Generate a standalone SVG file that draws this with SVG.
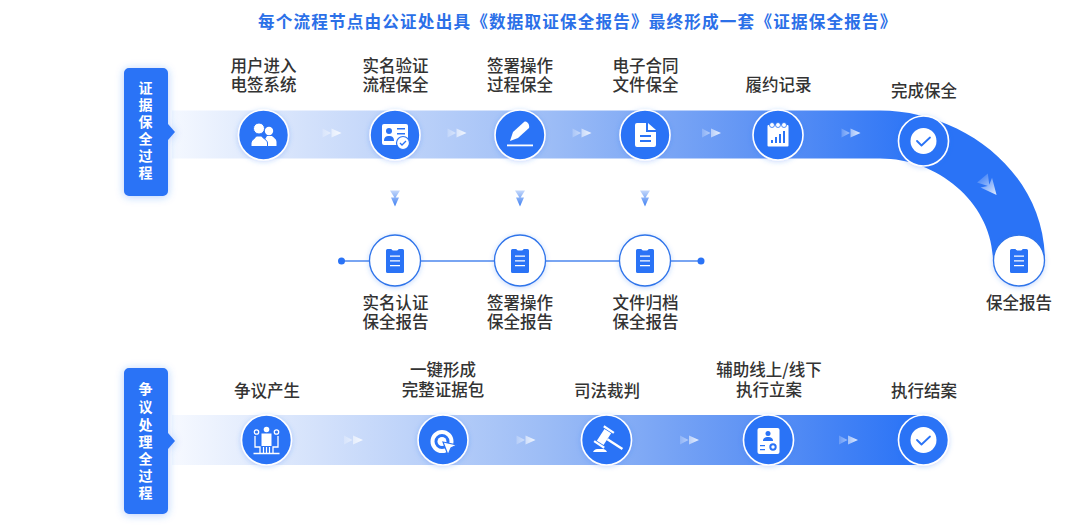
<svg xmlns="http://www.w3.org/2000/svg" width="1080" height="528" viewBox="0 0 1080 528">
<style>
text{font-family:"Noto Sans CJK SC","Noto Sans",sans-serif}
.title{font-size:16.6px;font-weight:700;fill:#2b70e8;letter-spacing:1.17px}
.lab{font-size:16.5px;font-weight:500;fill:#333;text-anchor:middle}
.tab{font-size:14px;font-weight:700;fill:#fff;text-anchor:middle}
.ring{fill:#2a73f6;stroke:#fff;stroke-width:1.6;filter:url(#glow)}
.wring{fill:#fff;stroke:#2f74ea;stroke-width:1.3;filter:url(#glow)}
.ic{fill:#fff}
.icb{fill:#2a73f6}
</style>
<defs>
<linearGradient id="band1" gradientUnits="userSpaceOnUse" x1="172" y1="0" x2="925" y2="0">
<stop offset="0" stop-color="#f4f8ff"/><stop offset=".18" stop-color="#d3e1fb"/><stop offset=".5" stop-color="#9dbdf6"/><stop offset=".8" stop-color="#5a90f4"/><stop offset="1" stop-color="#2a73f6"/>
</linearGradient>
<linearGradient id="band2" gradientUnits="userSpaceOnUse" x1="172" y1="0" x2="915" y2="0">
<stop offset="0" stop-color="#f6f9ff"/><stop offset=".2" stop-color="#d3e1fb"/><stop offset=".5" stop-color="#9dbdf6"/><stop offset=".8" stop-color="#5a90f4"/><stop offset="1" stop-color="#2a73f6"/>
</linearGradient>
<linearGradient id="fadeR"><stop offset="0" stop-color="#fff" stop-opacity=".2"/><stop offset="1" stop-color="#fff" stop-opacity=".85"/></linearGradient>
<linearGradient id="fadeD" x1="0" y1="0" x2="0" y2="1"><stop offset="0" stop-color="#c4d8fb"/><stop offset="1" stop-color="#3f80f2"/></linearGradient>
<filter id="glow" x="-30%" y="-30%" width="160%" height="160%"><feDropShadow dx="0" dy="1" stdDeviation="2.5" flood-color="#2a73f6" flood-opacity=".28"/></filter>
<filter id="tabglow" x="-40%" y="-20%" width="180%" height="140%"><feDropShadow dx="0" dy="1" stdDeviation="4" flood-color="#2a73f6" flood-opacity=".35"/></filter>
<g id="chevR"><path d="M-10,-4.500 L-1.500,0 L-10,4.500Z M-1,-4.500 L9,0 L-1,4.500Z" fill="url(#fadeR)"/></g>
<g id="chevD"><path d="M-5,-8 H5 L0,0Z M-4,-1 H4 L0,8 Z" fill="url(#fadeD)" transform="translate(0,1)"/></g>
<g id="clip"><path class="icb" fill-rule="evenodd" d="M-9,-10.500 a1.500,1.500 0 0 1 1.500,-1.500 H-3.500 a3.500,1.500 0 0 0 7,0 H7.500 a1.500,1.500 0 0 1 1.500,1.500 V10.500 a1.500,1.500 0 0 1 -1.500,1.500 H-7.500 a1.500,1.500 0 0 1 -1.500,-1.500Z M-5,-5.500 v1.300 h10 v-1.300Z M-5,-.7 v1.300 h10 v-1.300Z M-5,4 v1.300 h10 v-1.300Z"/></g>
<g id="check"><circle r="13" fill="#fff"/><path d="M-6.500,0 L-2,4.500 L6.500,-3.500" fill="none" stroke="#2a73f6" stroke-width="1.800" stroke-linecap="round" stroke-linejoin="round"/></g>
</defs>

<text class="title" x="258" y="28">每个流程节点由公证处出具《数据取证保全报告》最终形成一套《证据保全报告》</text>

<g id="connectors">
<path id="band-evidence" d="M172,110.500 H880 C960,110.500 1045,170 1045,262 L993,262 C993,205 940,158.500 880,158.500 H172Z" fill="url(#band1)"/>
<rect id="band-dispute" x="172" y="415" width="752" height="50" fill="url(#band2)"/>
<path d="M341,261 H701" stroke="#4c87ee" stroke-width="1.400" fill="none"/>
<circle cx="341.500" cy="261" r="3.500" fill="#2a73f6"/>
<circle cx="701" cy="261" r="3.500" fill="#2a73f6"/>
<use href="#chevR" x="332.500" y="133"/>
<use href="#chevR" x="457.500" y="133"/>
<use href="#chevR" x="582.500" y="133"/>
<use href="#chevR" x="712" y="133"/>
<use href="#chevR" x="851.500" y="133"/>
<use href="#chevR" x="354" y="440"/>
<use href="#chevR" x="526.500" y="440"/>
<use href="#chevR" x="690" y="440"/>
<use href="#chevR" x="849" y="440"/>
<use href="#chevD" x="395" y="197.500"/>
<use href="#chevD" x="520" y="197.500"/>
<use href="#chevD" x="645" y="197.500"/>
<path d="M-11,-7 L0,0 L-11,7Z M-5,-7.500 L11,0 L-5,7.500 L-1,0Z" fill="url(#fadeR)" transform="translate(989.500,186.500) rotate(50)"/>
</g>

<g id="tab-evidence">
<path d="M129,68 H163 a5,5 0 0 1 5,5 V124 L175,132 L168,140 V191 a5,5 0 0 1 -5,5 H129 a5,5 0 0 1 -5,-5 V73 a5,5 0 0 1 5,-5Z" fill="#2a73f6" filter="url(#tabglow)"/>
<text class="tab" x="145.500" y="92.500">证</text>
<text class="tab" x="145.500" y="109.500">据</text>
<text class="tab" x="145.500" y="127">保</text>
<text class="tab" x="145.500" y="144">全</text>
<text class="tab" x="145.500" y="161">过</text>
<text class="tab" x="145.500" y="178">程</text>
</g>
<g id="tab-dispute">
<path d="M129,368 H163 a5,5 0 0 1 5,5 V433 L175,441 L168,449 V509 a5,5 0 0 1 -5,5 H129 a5,5 0 0 1 -5,-5 V373 a5,5 0 0 1 5,-5Z" fill="#2a73f6" filter="url(#tabglow)"/>
<text class="tab" x="145.500" y="394">争</text>
<text class="tab" x="145.500" y="412">议</text>
<text class="tab" x="145.500" y="430">处</text>
<text class="tab" x="145.500" y="447">理</text>
<text class="tab" x="145.500" y="464">全</text>
<text class="tab" x="145.500" y="481">过</text>
<text class="tab" x="145.500" y="498">程</text>
</g>

<g id="node-enter">
<text class="lab"><tspan x="263.500" y="71.500">用户进入</tspan><tspan x="263.500" y="91">电签系统</tspan></text>
<circle class="ring" cx="263.500" cy="135" r="25"/>
<circle class="ic" cx="269" cy="131" r="4.200"/><path class="ic" d="M264,146 v-5 l3,-5 h5 c2,2 4.500,3 4.500,6 v4Z"/>
<circle class="ic" cx="259" cy="128.500" r="5.500" stroke="#2a73f6" stroke-width="1"/>
<path class="ic" stroke="#2a73f6" stroke-width="1" d="M251,146.500 v-3.500 c0,-3 4,-4.500 5.500,-7 h5 c1.500,2.500 6,4 6,7 v3.500Z"/>
</g>
<g id="node-verify">
<text class="lab"><tspan x="395.500" y="71.500">实名验证</tspan><tspan x="395.500" y="91">流程保全</tspan></text>
<circle class="ring" cx="395" cy="135" r="25"/>
<rect class="ic" x="382" y="124" width="26" height="21" rx="2"/>
<circle class="icb" cx="389" cy="131" r="3"/><path class="icb" d="M384,141 c0,-4 2,-5 5,-5 s5,1 5,5Z"/><path class="icb" d="M397,128 h8 v1.500 h-8Z M397,133 h8 v1.500 h-8Z"/>
<circle cx="403" cy="143" r="6.500" fill="#fff" stroke="#2a73f6" stroke-width="1.200"/><path d="M400,143 l2,2 l4,-4" fill="none" stroke="#2a73f6" stroke-width="1.300"/>
</g>
<g id="node-sign">
<text class="lab"><tspan x="520" y="71.500">签署操作</tspan><tspan x="520" y="91">过程保全</tspan></text>
<circle class="ring" cx="520" cy="135" r="25"/>
<path class="ic" d="M510,141 L513,132 L524,122 C527,120 530,125 529,128 L518,138Z"/>
<rect class="ic" x="507" y="144.500" width="26" height="1.800"/>
</g>
<g id="node-contract">
<text class="lab"><tspan x="645.500" y="71.500">电子合同</tspan><tspan x="645.500" y="91">文件保全</tspan></text>
<circle class="ring" cx="645" cy="135" r="25"/>
<path class="ic" fill-rule="evenodd" d="M637,123 H646 V132 H656 V145 a2,2 0 0 1 -2,2 H637 a2,2 0 0 1 -2,-2 V125 a2,2 0 0 1 2,-2Z M640,135 v2 h11 v-2Z M640,140 v2 h11 v-2Z"/>
<path class="ic" d="M648,123 L656,130 H648Z"/>
</g>
<g id="node-record">
<text class="lab" x="778.500" y="91">履约记录</text>
<circle class="ring" cx="778" cy="135" r="25"/>
<rect class="ic" x="767.500" y="125" width="21" height="21.500" rx="1"/>
<g class="ic" stroke="#2a73f6" stroke-width=".8"><circle cx="772" cy="125" r="2.500"/><circle cx="778" cy="125" r="2.500"/><circle cx="784" cy="125" r="2.500"/></g>
<path class="icb" d="M771,140 h2 v3 h-2Z M775,137 h2 v6 h-2Z M779,134 h2 v9 h-2Z M783,131 h2 v12 h-2Z"/>
</g>
<g id="node-finish">
<text class="lab" x="924" y="96.500">完成保全</text>
<circle class="ring" cx="923.500" cy="141" r="25"/>
<use href="#check" x="923.500" y="141"/>
</g>
<g id="node-report">
<circle class="wring" cx="1019" cy="260.500" r="25.500"/>
<use href="#clip" x="1019" y="261"/>
<text class="lab" x="1019" y="309">保全报告</text>
</g>

<g id="node-report-verify">
<circle class="wring" cx="395" cy="260.500" r="25.500"/><use href="#clip" x="395" y="261"/>
<text class="lab"><tspan x="395.500" y="308.500">实名认证</tspan><tspan x="395.500" y="328.200">保全报告</tspan></text>
</g>
<g id="node-report-sign">
<circle class="wring" cx="520" cy="260.500" r="25.500"/><use href="#clip" x="520" y="261"/>
<text class="lab"><tspan x="520" y="308.500">签署操作</tspan><tspan x="520" y="328.200">保全报告</tspan></text>
</g>
<g id="node-report-file">
<circle class="wring" cx="645" cy="260.500" r="25.500"/><use href="#clip" x="645" y="261"/>
<text class="lab"><tspan x="645.500" y="308.500">文件归档</tspan><tspan x="645.500" y="328.200">保全报告</tspan></text>
</g>

<g id="node-dispute">
<text class="lab" x="267" y="397">争议产生</text>
<circle class="ring" cx="266.500" cy="440" r="25"/>
<g fill="none" stroke="#fff" stroke-width="1.300"><circle cx="256.500" cy="432" r="2.200"/><circle cx="276.500" cy="432" r="2.200"/><path d="M255,436 v11 h5 v6 M278,436 v11 h-5 v6 M253.500,453.500 h26"/></g>
<circle class="ic" cx="266.500" cy="429.500" r="2.800"/><path class="ic" d="M261.500,433.500 h10 v12.500 h-10Z"/><path d="M263.500,447 v6 M266.500,447 v6 M269.500,447 v6" stroke="#fff" stroke-width="1.200"/>
</g>
<g id="node-package">
<text class="lab"><tspan x="443" y="376">一键形成</tspan><tspan x="443" y="396">完整证据包</tspan></text>
<circle class="ring" cx="443" cy="440" r="25"/>
<circle cx="442" cy="441.500" r="9.500" fill="none" stroke="#fff" stroke-width="4"/><circle cx="442" cy="441.500" r="4.500" fill="#fff"/>
<path class="ic" stroke="#2a73f6" stroke-width="1.200" d="M443,442 L457,445 L451,448 L448,455Z"/>
</g>
<g id="node-court">
<text class="lab" x="607" y="397">司法裁判</text>
<circle class="ring" cx="606.500" cy="440" r="25"/>
<g class="ic" transform="translate(604,437) rotate(33)"><rect x="-4" y="-7" width="8" height="14"/><rect x="-6" y="-10" width="12" height="2.300"/><rect x="-6" y="7.700" width="12" height="2.300"/><rect x="4" y="-1.200" width="18" height="2.400"/></g>
<path class="ic" d="M593,452 c1,-2.500 3,-3 6,-3 h2 c3,0 5,.5 6,3Z"/>
</g>
<g id="node-filing">
<text class="lab"><tspan x="769" y="376">辅助线上/线下</tspan><tspan x="769" y="396">执行立案</tspan></text>
<circle class="ring" cx="768.500" cy="440" r="25"/>
<rect class="ic" x="757.500" y="428" width="22" height="26" rx="2"/>
<circle class="icb" cx="768" cy="433.500" r="2.500"/><path class="icb" d="M763,441 c0,-3 2,-4 5,-4 s5,1 5,4Z"/>
<path class="icb" d="M760,445 h5 v1.200 h-5Z M760,449 h5 v1.200 h-5Z"/>
<circle cx="773" cy="447" r="2.700" fill="#fff" stroke="#2a73f6" stroke-width="2"/>
</g>
<g id="node-close">
<text class="lab" x="924" y="397">执行结案</text>
<circle class="ring" cx="923.500" cy="440" r="25"/>
<use href="#check" x="923.500" y="440"/>
</g>
</svg>
